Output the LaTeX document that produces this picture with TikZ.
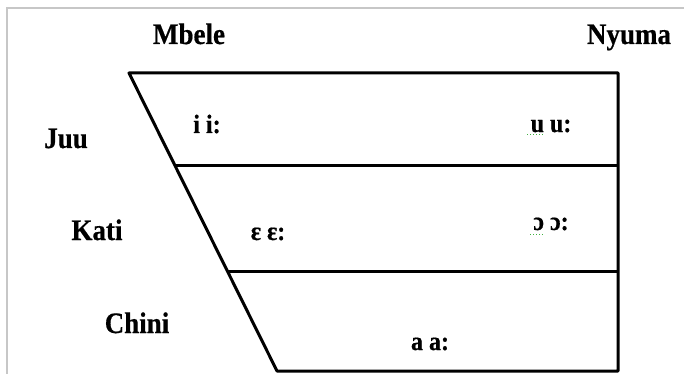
\documentclass[tikz,border=0pt]{standalone}
\usepackage{fontspec}
\usepackage{graphicx}
\setmainfont{Liberation Serif}[BoldFeatures={FakeBold=0.6}]
\newcommand{\tallbold}[1]{\scalebox{1}[1.1]{\bfseries #1}}
\begin{document}
\begin{tikzpicture}[x=1pt,y=-1pt,
  lbl/.style={font=\fontsize{27}{30}\selectfont, inner sep=0pt, anchor=base},
  vow/.style={font=\fontsize{24}{28}\selectfont, inner sep=0pt, anchor=base},
  frame/.style={draw=black!22, line width=2pt},
  edge/.style={draw=black, line width=3pt, line join=round},
  squiggle/.style={draw=green!60!black!75, line width=1pt, dotted}]
  \useasboundingbox (0,0) rectangle (684,374);
  \fill[white] (0,0) rectangle (684,374);
  % page frame
  \draw[frame] (7,374) -- (7,8) -- (684,8);

  % corners of the vowel chart
  \coordinate (tl) at (129,73);
  \coordinate (tr) at (618,73);
  \coordinate (br) at (618,371);
  \coordinate (bl) at (277,371);
  \coordinate (ml1) at (174.7,165);
  \coordinate (mr1) at (618,165);
  \coordinate (ml2) at (227.3,271);
  \coordinate (mr2) at (618,271);

  \draw[edge] (tl) -- (tr) -- (br) -- (bl) -- cycle;
  \draw[edge] (ml1) -- (mr1);
  \draw[edge] (ml2) -- (mr2);

  % axis labels
  \node[lbl] (mbele) at (189,44) {\tallbold{Mbele}};
  \node[lbl] (nyuma) at (629,44) {\tallbold{Nyuma}};
  \node[lbl] (juu) at (66,148) {\tallbold{Juu}};
  \node[lbl] (kati) at (97,240) {\tallbold{Kati}};
  \node[lbl] (chini) at (137,333) {\tallbold{Chini}};

  % vowels
  \node[vow] (ii) at (207,133) {\tallbold{i i:}};
  \node[vow] (ee) at (268,240) {\tallbold{ɛ ɛ:}};
  \node[vow] (uu) at (551,132) {\tallbold{u u:}};
  \node[vow] (oo) at (551,230) {\tallbold{ɔ ɔ:}};
  \node[vow] (aa) at (430,350) {\tallbold{a a:}};

  % spell-check marks
  \draw[squiggle] (527,135) -- (544,135);
  \draw[squiggle] (530,234) -- (544,234);
\end{tikzpicture}
\end{document}
